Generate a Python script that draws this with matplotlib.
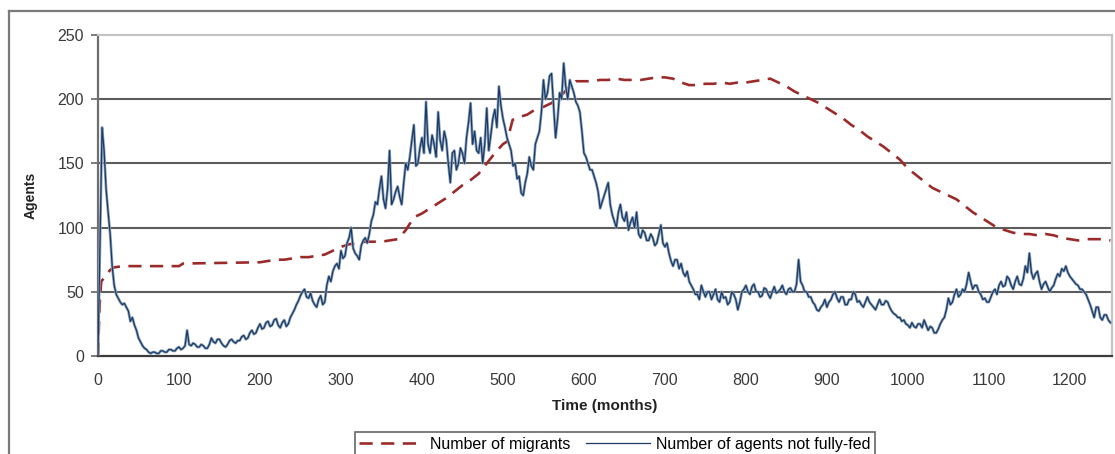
import numpy as np
import matplotlib
matplotlib.use("Agg")
import matplotlib.pyplot as plt
from matplotlib.lines import Line2D

plt.rcParams['font.family'] = ['Liberation Sans', 'DejaVu Sans']

# ---- data ----
# Number of agents not fully-fed, read every 2.5 months (0..1250)
fed_step = 2.5
not_fed = [
    0, 90, 178, 160, 130, 112, 95, 70, 55, 48, 45, 42, 40, 41, 38, 35, 27, 30, 24, 20,
    14, 11, 8, 6, 5, 3, 2, 3, 3, 2, 2, 4, 4, 3, 3, 5, 5, 4, 4, 6,
    7, 5, 6, 8, 20, 9, 8, 10, 9, 7, 7, 9, 8, 6, 6, 9, 14, 11, 10, 13,
    13, 10, 8, 7, 9, 12, 13, 11, 10, 12, 12, 15, 16, 13, 14, 18, 20, 17, 18, 22,
    25, 21, 22, 26, 27, 23, 24, 28, 29, 24, 22, 26, 28, 23, 25, 30, 33, 36, 40, 43,
    47, 50, 52, 46, 45, 49, 43, 40, 38, 44, 47, 40, 42, 55, 62, 58, 66, 70, 72, 68,
    82, 76, 78, 88, 92, 100, 84, 80, 78, 75, 86, 90, 92, 88, 95, 105, 110, 120, 118, 130,
    140, 122, 115, 130, 160, 118, 122, 128, 132, 124, 118, 135, 150, 145, 155, 168, 180, 148, 150, 162,
    170, 158, 198, 165, 158, 172, 165, 155, 190, 168, 160, 175, 168, 150, 135, 158, 160, 145, 150, 162,
    158, 150, 170, 182, 197, 165, 175, 160, 158, 170, 150, 165, 193, 160, 172, 185, 192, 178, 210, 195,
    185, 178, 170, 165, 160, 148, 150, 138, 140, 127, 125, 135, 142, 155, 148, 145, 165, 170, 175, 190,
    215, 200, 205, 218, 220, 195, 170, 185, 205, 200, 228, 210, 200, 215, 210, 205, 198, 195, 190, 175,
    158, 155, 150, 145, 145, 140, 135, 128, 115, 120, 125, 130, 135, 118, 110, 105, 100, 112, 118, 108,
    105, 112, 98, 104, 108, 100, 112, 95, 92, 98, 96, 90, 90, 95, 92, 86, 88, 95, 102, 88,
    85, 88, 80, 74, 70, 75, 75, 68, 72, 65, 62, 66, 58, 55, 52, 48, 48, 44, 55, 50,
    46, 50, 50, 44, 48, 52, 44, 42, 50, 45, 46, 40, 42, 50, 48, 44, 36, 42, 50, 52,
    55, 50, 48, 54, 56, 50, 50, 46, 47, 53, 52, 48, 45, 50, 54, 49, 50, 52, 55, 50,
    48, 52, 53, 50, 50, 56, 75, 58, 55, 50, 50, 46, 46, 42, 40, 36, 35, 38, 40, 44,
    38, 42, 44, 48, 50, 45, 42, 46, 46, 40, 40, 44, 44, 50, 48, 42, 43, 40, 38, 42,
    46, 42, 40, 38, 36, 40, 44, 40, 40, 43, 42, 38, 35, 33, 32, 30, 30, 27, 28, 25,
    24, 22, 26, 23, 22, 25, 25, 22, 28, 24, 20, 23, 22, 18, 18, 21, 25, 28, 30, 36,
    45, 40, 42, 48, 52, 46, 48, 52, 50, 56, 65, 58, 52, 55, 55, 50, 48, 44, 45, 42,
    42, 46, 50, 52, 48, 55, 58, 54, 55, 62, 60, 55, 52, 58, 62, 56, 55, 60, 70, 65,
    80, 65, 60, 64, 66, 58, 52, 56, 58, 54, 50, 53, 55, 60, 64, 62, 68, 66, 70, 65,
    62, 60, 58, 56, 55, 52, 52, 50, 48, 44, 40, 35, 30, 38, 38, 30, 28, 32, 32, 28,
    26,
]

# Number of migrants
migr_t = [0, 2, 4, 10, 15, 20, 30, 100, 105, 200, 210, 220, 230, 240, 250,
          260, 270, 280, 290, 300, 310, 320, 330, 340, 350, 360, 370, 380,
          390, 400, 410, 420, 430, 440, 450, 460, 470, 480, 490, 500, 505,
          512, 520, 530, 540, 550, 560, 570, 580, 590, 600, 610, 620, 630,
          640, 650, 660, 670, 680, 690, 700, 710, 720, 730, 740, 750, 760,
          770, 780, 790, 800, 810, 820, 830, 840, 850, 860, 870, 880, 890,
          900, 910, 920, 930, 940, 950, 960, 970, 980, 990, 1000, 1010,
          1020, 1030, 1040, 1050, 1060, 1070, 1080, 1090, 1100, 1110, 1120,
          1130, 1140, 1150, 1160, 1170, 1180, 1190, 1200, 1210, 1220, 1230,
          1240, 1250]
migr_v = [0, 40, 58, 63, 67, 69, 70, 70, 72, 73, 74, 75, 75, 76, 77,
          77, 78, 79, 82, 85, 87, 88, 89, 89, 89, 90, 91, 98,
          108, 111, 115, 119, 123, 128, 133, 137, 142, 150, 158, 165, 167,
          184, 186, 188, 192, 194, 197, 202, 208, 214, 214, 214, 215, 215,
          216, 215, 215, 215, 216, 217, 217, 216, 213, 211, 211, 212, 212,
          213, 212, 213, 213, 214, 215, 216, 213, 210, 206, 203, 200, 197,
          193, 189, 185, 180, 176, 171, 167, 163, 158, 153, 146, 141,
          136, 131, 128, 125, 122, 117, 112, 108, 104, 100, 98,
          96, 95, 95, 94, 95, 94, 92, 91, 90, 91, 91,
          91, 90]

x_ticks = [0, 100, 200, 300, 400, 500, 600, 700, 800, 900, 1000, 1100, 1200]
y_ticks = [0, 50, 100, 150, 200, 250]

# ---- figure ----
W, H = 1115, 454
fig = plt.figure(figsize=(W / 100, H / 100), dpi=100)
ax = fig.add_axes([98 / W, 1 - 356 / H, (1112 - 98) / W, (356 - 35) / H])

fed_t = np.arange(len(not_fed)) * fed_step
ax.plot(migr_t, migr_v, color='#9b2b2b', lw=1.9, linestyle=(0, (5.0, 3.2)),
        label='Number of migrants', zorder=3)
ax.plot(fed_t, not_fed, color='#8ea4bc', lw=2.0, zorder=4, solid_joinstyle='round')
ax.plot(fed_t, not_fed, color='#1a3a66', lw=0.9,
        label='Number of agents not fully-fed', zorder=5)

for g in [50, 100, 150, 200]:
    ax.axhline(g, color='#5c5c5c', lw=1.5, zorder=1)

ax.set_xlim(0, 1252)
ax.set_ylim(0, 250)
ax.set_xticks(x_ticks)
ax.set_yticks(y_ticks)
ax.tick_params(axis='x', length=0, pad=12, labelsize=11.5, labelcolor='#3a3a3a')
ax.tick_params(axis='y', length=5, width=1.3, color='#707070', pad=5,
               labelsize=11.5, labelcolor='#3a3a3a')

ax.spines['left'].set_color('#6e6e6e')
ax.spines['left'].set_linewidth(1.6)
ax.spines['bottom'].set_color('#3c3c3c')
ax.spines['bottom'].set_linewidth(1.6)
ax.spines['top'].set_color('#c4c4c4')
ax.spines['top'].set_linewidth(1.6)
ax.spines['right'].set_color('#c4c4c4')
ax.spines['right'].set_linewidth(1.6)

ax.set_xlabel('Time (months)', fontsize=11, fontweight='bold', color='#222222', labelpad=8)
ax.set_ylabel('Agents', fontsize=10, fontweight='bold', color='#222222', labelpad=14)

# outer chart frame
fig.add_artist(Line2D([9 / W, 9 / W], [0, 1 - 11 / H], transform=fig.transFigure,
                      color='#7a7a7a', lw=1.6))
fig.add_artist(Line2D([9 / W, 1], [1 - 11 / H, 1 - 11 / H], transform=fig.transFigure,
                      color='#7a7a7a', lw=1.6))

leg = fig.legend(loc='upper center', bbox_to_anchor=(615 / W, 1 - 432 / H), ncol=2,
                 fontsize=11.5, frameon=True, fancybox=False, edgecolor='#404040',
                 handlelength=4.0, handletextpad=0.4, columnspacing=1.0,
                 borderpad=0.3, borderaxespad=0)
leg.get_frame().set_linewidth(1.2)

fig.savefig('out.png', dpi=100)
